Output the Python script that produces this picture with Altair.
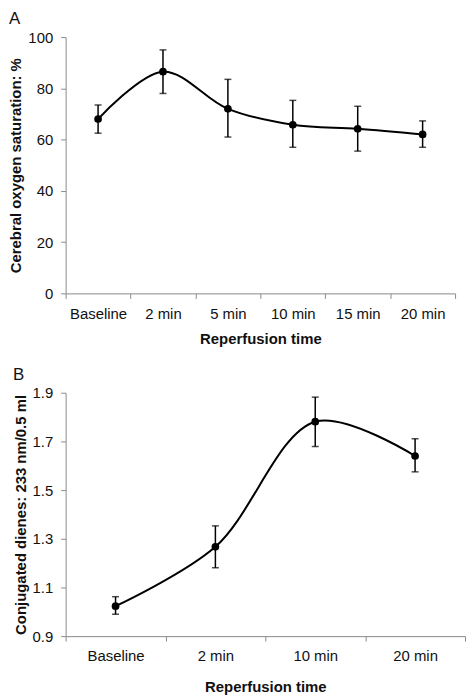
import altair as alt
import pandas as pd

cats_a = ["Baseline", "2 min", "5 min", "10 min", "15 min", "20 min"]
mean_a = [68.0, 86.5, 72.0, 65.8, 64.2, 62.0]
hi_a = [73.5, 95.0, 83.5, 75.3, 73.0, 67.3]
lo_a = [62.5, 78.0, 61.0, 57.0, 55.5, 57.0]

cats_b = ["Baseline", "2 min", "10 min", "20 min"]
mean_b = [1.023, 1.267, 1.781, 1.640]
hi_b = [1.062, 1.353, 1.882, 1.711]
lo_b = [0.990, 1.181, 1.679, 1.575]

df_a = pd.DataFrame({"cat": cats_a, "mean": mean_a, "hi": hi_a, "lo": lo_a})
df_b = pd.DataFrame({"cat": cats_b, "mean": mean_b, "hi": hi_b, "lo": lo_b})

FONT = "Liberation Sans"
AXC = "#8a8a8a"


def panel(df, cats, ytitle, domain, values, fmt, w, h, letter, xtp):
    xaxis = alt.Axis(title="Reperfusion time", labelAngle=0, tickBand="extent",
                     titlePadding=xtp)
    yaxis = alt.Axis(title=ytitle, values=values, format=fmt)
    xs = alt.Scale(type="band", paddingInner=0, paddingOuter=0)
    ys = alt.Scale(domain=domain, nice=False, zero=False)
    x = alt.X("cat:N", sort=cats, axis=xaxis, scale=xs)

    def Y(f):
        return alt.Y(f"{f}:Q", axis=yaxis, scale=ys, title=ytitle)

    base = alt.Chart(df)
    line = base.mark_line(interpolate="catmull-rom", color="black", strokeWidth=2).encode(x=x, y=Y("mean"))
    rule = base.mark_rule(color="black", strokeWidth=1.5).encode(x=x, y=Y("lo"), y2="hi:Q")
    tlo = base.mark_tick(color="black", size=7, thickness=1.5, orient="horizontal").encode(x=x, y=Y("lo"))
    thi = base.mark_tick(color="black", size=7, thickness=1.5, orient="horizontal").encode(x=x, y=Y("hi"))
    pts = base.mark_circle(color="black", size=60, opacity=1).encode(x=x, y=Y("mean"))
    return alt.layer(line, rule, tlo, thi, pts).properties(
        width=w, height=h,
        title=alt.TitleParams(letter, anchor="start", frame="bounds", fontSize=17,
                              fontWeight="normal", font=FONT, color="#111", offset=2),
    )


a = panel(df_a, cats_a, "Cerebral oxygen saturation: %", [0, 100],
          [0, 20, 40, 60, 80, 100], "d", 392, 258, "A", 10)
b = panel(df_b, cats_b, "Conjugated dienes: 233 nm/0.5 ml", [0.9, 1.9],
          [0.9, 1.1, 1.3, 1.5, 1.7, 1.9], ".1f", 402, 245, "B", 16)

chart = (
    alt.vconcat(a, b, spacing=20)
    .properties(padding=0)
    .configure_view(stroke=None)
    .configure_axis(
        grid=False, domainColor=AXC, tickColor=AXC, tickSize=5, labelPadding=8,
        labelFontSize=15, titleFontSize=15, titleFontWeight="bold",
        labelColor="#111", titleColor="#111", labelFont=FONT, titleFont=FONT,
    )
    .configure_axisY(titlePadding=4)
)

chart.save("out.html", embed_options={"renderer": "svg", "actions": False})
